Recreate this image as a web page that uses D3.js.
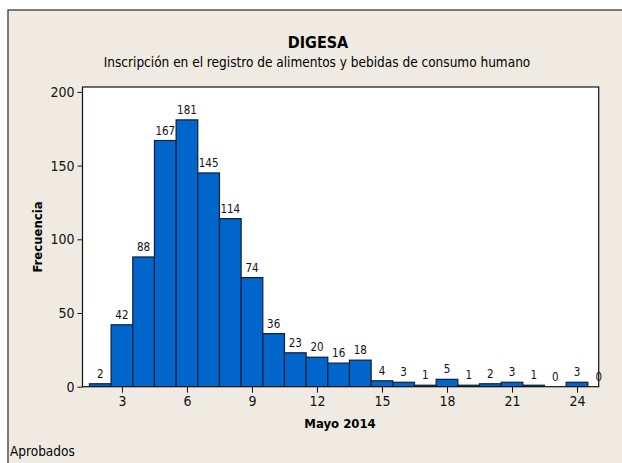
<!DOCTYPE html>
<html><head><meta charset="utf-8">
<script src="https://cdn.jsdelivr.net/npm/d3@7"></script>
<style>body{margin:0;background:#fff;}svg{display:block;}</style>
</head><body>
<script>
const bins = [2,3,4,5,6,7,8,9,10,11,12,13,14,15,16,17,18,19,20,21,22,23,24,25];
const counts = [2,42,88,167,181,145,114,74,36,23,20,16,18,4,3,1,5,1,2,3,1,0,3,0];
const xTicks = [3,6,9,12,15,18,21,24];
const yTicks = [0,50,100,150,200];
const title = "DIGESA";
const subtitle = "Inscripción en el registro de alimentos y bebidas de consumo humano";
const xLabel = "Mayo 2014";
const yLabel = "Frecuencia";
const footer = "Aprobados";

const W = 622, H = 463;
const font = "Tahoma, 'DejaVu Sans Condensed', 'Liberation Sans', sans-serif";
const svg = d3.select("body").append("svg").attr("width", W).attr("height", H);
svg.append("rect").attr("width", W).attr("height", H).attr("fill", "#fff");
svg.append("rect").attr("x", 8).attr("y", 10).attr("width", 630).attr("height", 470)
  .attr("fill", "#EFEBE2").attr("stroke", "#3a3a3a").attr("stroke-width", 1.3);

const L = 82.5, R = 598.7, T = 87, B = 386.7;
const x = d3.scaleLinear().domain([1.18, 25]).range([L, R]);
const y = d3.scaleLinear().domain([0, 203.3]).range([B, T]);

svg.append("rect").attr("x", L).attr("y", T).attr("width", R - L).attr("height", B - T)
  .attr("fill", "#fff");

svg.append("clipPath").attr("id", "c").append("rect")
  .attr("x", L).attr("y", T - 20).attr("width", R - L).attr("height", B - T + 20);

const data = bins.map((b, i) => ({b, c: counts[i]}));
svg.append("g").attr("clip-path", "url(#c)").selectAll("rect").data(data.filter(d => d.c > 0)).join("rect")
  .attr("x", d => x(d.b - 0.5)).attr("width", d => x(d.b + 0.5) - x(d.b - 0.5))
  .attr("y", d => y(d.c)).attr("height", d => y(0) - y(d.c))
  .attr("fill", "#0066CC").attr("stroke", "#0d1f3c").attr("stroke-width", 1.2);

svg.append("g").selectAll("text").data(data).join("text")
  .attr("x", d => x(d.b)).attr("y", d => y(d.c) - 6)
  .attr("text-anchor", "middle").attr("font-family", font).attr("font-size", 11.5)
  .attr("fill", "#111").text(d => d.c);

svg.append("rect").attr("x", L).attr("y", T).attr("width", R - L).attr("height", B - T)
  .attr("fill", "none").attr("stroke", "#111").attr("stroke-width", 1.2);

const xa = svg.append("g").attr("transform", `translate(0,${B})`)
  .call(d3.axisBottom(x).tickValues(xTicks).tickSize(6).tickPadding(3).tickFormat(d3.format("d")));
const ya = svg.append("g").attr("transform", `translate(${L},0)`)
  .call(d3.axisLeft(y).tickValues(yTicks).tickSize(5).tickPadding(3).tickFormat(d3.format("d")));
[xa, ya].forEach(a => {
  a.select(".domain").remove();
  a.selectAll("line").attr("stroke", "#111");
  a.selectAll("text").attr("font-family", font).attr("font-size", 14).attr("fill", "#111");
});

svg.append("text").attr("x", 318).attr("y", 48).attr("text-anchor", "middle")
  .attr("font-family", font).attr("font-size", 16).attr("font-weight", "bold").attr("fill", "#000").text(title);
svg.append("text").attr("x", 317).attr("y", 67).attr("text-anchor", "middle")
  .attr("font-family", font).attr("font-size", 13.5).attr("fill", "#000").text(subtitle);
svg.append("text").attr("x", 340).attr("y", 428).attr("text-anchor", "middle")
  .attr("font-family", font).attr("font-size", 13).attr("font-weight", "bold").attr("fill", "#000").text(xLabel);
svg.append("text").attr("transform", "translate(42,237) rotate(-90)").attr("text-anchor", "middle")
  .attr("font-family", font).attr("font-size", 13).attr("font-weight", "bold").attr("fill", "#000").text(yLabel);
svg.append("text").attr("x", 10).attr("y", 456)
  .attr("font-family", font).attr("font-size", 13.5).attr("fill", "#000").text(footer);
</script>
</body></html>
